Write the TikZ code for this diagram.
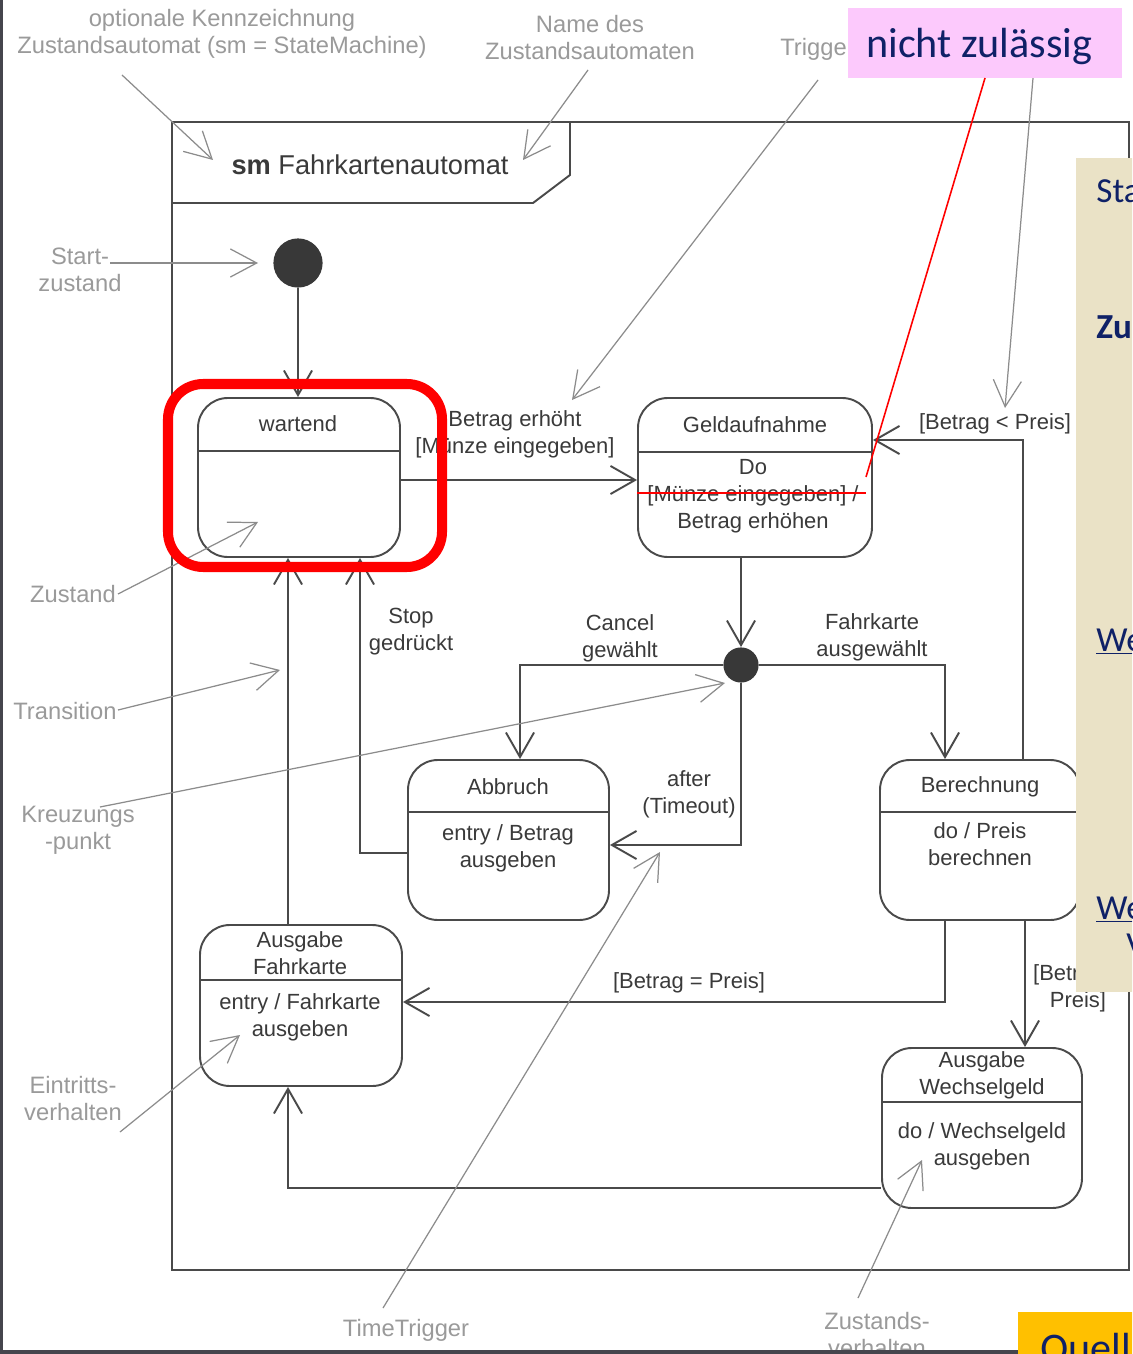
\documentclass[tikz,border=0pt]{standalone}
\usepackage{fontspec}
\setmainfont{Liberation Sans}
\newfontfamily\slidefont{Carlito}
\usetikzlibrary{arrows.meta,fit}
\definecolor{lineC}{HTML}{4A4A4A}
\definecolor{txtC}{HTML}{3A3A3A}
\definecolor{annC}{HTML}{9A9A9A}
\definecolor{annLine}{HTML}{8C8C8C}
\definecolor{navy}{HTML}{0F2167}
\definecolor{pinkbox}{HTML}{FCC9FC}
\definecolor{beige}{HTML}{EAE2C6}
\definecolor{gold}{HTML}{FFC000}
\definecolor{edgeC}{HTML}{45454D}
\newcommand\diafont{\fontsize{12.5}{15.3}\selectfont}
\newcommand\annfont{\fontsize{13.5}{15.3}\selectfont}
\newcommand\slidetext{\slidefont\fontsize{24}{28}\selectfont}
\newcommand\paneltext{\slidefont\fontsize{20}{24}\selectfont}
\begin{document}
\begin{tikzpicture}[x=0.02cm,y=-0.02cm,
  ln/.style={draw=lineC,line width=1.1pt},
  tr/.style={ln,-{Straight Barb[length=14pt,width=16pt,line width=1.1pt]}},
  state/.style={draw=lineC,line width=1.1pt,rounded corners=17pt,inner sep=0pt},
  dtext/.style={text=txtC,font=\diafont,align=center,inner sep=0pt},
  atext/.style={text=annC,font=\annfont,align=center,inner sep=0pt},
  ann/.style={draw=annLine,line width=0.7pt,-{Straight Barb[length=15pt,width=16pt,line width=0.7pt]}},
  pseudo/.style={circle,fill=black!78,inner sep=0pt},
  panel/.style={inner sep=0pt,outer sep=0pt},
  ptext/.style={text=navy,inner sep=0pt,anchor=base west},
]
\useasboundingbox (0,0) rectangle (1132,1354);
\clip (0,0) rectangle (1132,1354);
\fill[white] (0,0) rectangle (1132,1354);

% ---------- diagram frame and name tab ----------
\draw[ln] (172,122) rectangle (1129,1270);
\draw[ln] (172,203) -- (533,203) -- (570,175) -- (570,122);
\node[dtext,font=\fontsize{15.5}{18}\selectfont] (title) at (370,165) {\textbf{sm} Fahrkartenautomat};

% ---------- states ----------
\node[pseudo,minimum size=28pt] (init) at (298,263) {};
\node[pseudo,minimum size=20pt] (junc) at (741,665) {};
\node[state,fit={(198,398) (400,557)}] (wart) {};
\node[state,fit={(638,398) (872,557)}] (geld) {};
\node[state,fit={(408,760) (609,920)}] (abbr) {};
\node[state,fit={(880,760) (1080,920)}] (bere) {};
\node[state,fit={(200,925) (402,1086)}] (ausf) {};
\node[state,fit={(882,1048) (1082,1208)}] (ausw) {};

\draw[ln] (wart.west |- 0,451) -- (wart.east |- 0,451);
\draw[ln] (geld.west |- 0,452) -- (geld.east |- 0,452);
\draw[ln] (abbr.west |- 0,812) -- (abbr.east |- 0,812);
\draw[ln] (bere.west |- 0,812) -- (bere.east |- 0,812);
\draw[ln] (ausf.west |- 0,980) -- (ausf.east |- 0,980);
\draw[ln] (ausw.west |- 0,1102) -- (ausw.east |- 0,1102);

\node[dtext] (wartN) at (298,424) {wartend};
\node[dtext] (geldN) at (755,425) {Geldaufnahme};
\node[dtext] (geldB) at (753,496.5) {Do\\{[}Münze eingegeben] /\\Betrag erhöhen};
\node[dtext] (abbrN) at (508,787) {Abbruch};
\node[dtext] (abbrB) at (508,848.5) {entry / Betrag\\ausgeben};
\node[dtext] (bereN) at (980,787) {Berechnung};
\node[dtext] (bereB) at (980,844.5) {do / Preis\\berechnen};
\node[dtext] (ausfN) at (300,953.5) {Ausgabe\\Fahrkarte};
\node[dtext] (ausfB) at (300,1017) {entry / Fahrkarte\\ausgeben};
\node[dtext] (auswN) at (982,1075.5) {Ausgabe\\Wechselgeld};
\node[dtext] (auswB) at (982,1146) {do / Wechselgeld\\ausgeben};

% ---------- transitions ----------
\draw[tr] (init) -- (init |- wart.north);
\draw[tr] (wart.east |- 0,480) -- (geld.west |- 0,480);
\draw[tr] (geld.south -| junc) -- (junc.north);
\draw[tr] (junc.west) -| (abbr.north -| 520,0);
\draw[tr] (junc.east) -| (bere.north -| 945,0);
\draw[tr] (junc.south) |- (abbr.east |- 0,845);
\draw[tr] (abbr.west |- 0,853) -| (wart.south -| 360,0);
\draw[tr] (ausf.north -| 288,0) -- (wart.south -| 288,0);
\draw[tr] (bere.north -| 1023,0) |- (geld.east |- 0,440);
\draw[tr] (bere.south -| 945,0) |- (ausf.east |- 0,1002);
\draw[tr] (bere.south -| 1025,0) -- (ausw.north -| 1025,0);
\draw[tr] (ausw.west |- 0,1188) -| (ausf.south -| 288,0);

\node[dtext] (l1) at (515,434.5) {Betrag erhöht\\{[}Münze eingegeben]};
\node[dtext] (l2) at (995,424) {[Betrag < Preis]};
\node[dtext] (l3) at (620,638.5) {Cancel\\gewählt};
\node[dtext] (l4) at (872,637) {Fahrkarte\\ausgewählt};
\node[dtext] (l5) at (411,631.5) {Stop\\gedrückt};
\node[dtext] (l6) at (689,794.5) {after\\(Timeout)};
\node[dtext] (l7) at (689,983) {[Betrag = Preis]};
\node[dtext] (l8) at (1078,988) {[Betrag >\\Preis]};

% ---------- explanatory annotations ----------
\node[atext] (a1) at (222,33.5) {optionale Kennzeichnung\\Zustandsautomat (sm = StateMachine)};
\node[atext] (a2) at (590,37.5) {Name des\\Zustandsautomaten};
\node[atext,anchor=west] (a3) at (780,49) {Trigger};
\node[atext] (a4) at (80,270) {Start-\\zustand};
\node[atext] (a5) at (73,594) {Zustand};
\node[atext] (a6) at (65,711) {Transition};
\node[atext] (a7) at (78,830.5) {Kreuzungs\\-punkt};
\node[atext] (a8) at (73,1098.5) {Eintritts-\\verhalten};
\node[atext] (a9) at (406,1330) {TimeTrigger};
\node[atext] (a10) at (877,1334.5) {Zustands-\\verhalten};

\coordinate (s1) at (122,75);   \coordinate (e1) at (213,160);
\coordinate (s2) at (588,70);   \coordinate (e2) at (523,160);
\coordinate (s3) at (818,80);   \coordinate (e3) at (572,400);
\coordinate (s4) at (1033,78);  \coordinate (e4) at (1005,408);
\coordinate (s5) at (110,263);  \coordinate (e5) at (258,263);
\coordinate (s6) at (118,594);  \coordinate (e6) at (258,522);
\coordinate (s7) at (118,710);  \coordinate (e7) at (280,670);
\coordinate (s8) at (100,807);  \coordinate (e8) at (725,683);
\coordinate (s9) at (120,1132); \coordinate (e9) at (240,1035);
\coordinate (s10) at (383,1308); \coordinate (e10) at (660,852);
\coordinate (s11) at (858,1298); \coordinate (e11) at (922,1160);
\foreach \i in {1,...,11} { \draw[ann] (s\i) -- (e\i); }

% ---------- slide overlays ----------
\node[draw=red,line width=5.7pt,rounded corners=20pt,inner sep=0pt,fit={(168,384) (442,567)}] (mark) {};
\node[fill=pinkbox,panel,fit={(848,8) (1122,78)}] (nz) {};
\node[ptext,font=\slidetext] (nzT) at (866,58) {nicht zulässig};
\draw[red,line width=1.1pt] (geld.west |- 0,493) -- (866,493);
\coordinate (slash) at (866,477);
\draw[red,line width=0.9pt] (slash) -- (nz.south -| 985,0);

\node[fill=beige,panel,fit={(1076,158) (1140,992)}] (side) {};
\node[ptext,font=\paneltext] (p1) at (1096,203) {Sta};
\node[ptext,font=\paneltext\bfseries] (p2) at (1096,338) {Zu};
\node[ptext,font=\paneltext] (p3) at (1096,651) {\underline{We}};
\node[ptext,font=\paneltext] (p4) at (1096,919) {\underline{We}};
\node[ptext,font=\paneltext] (p5) at (1126,956) {V};

\node[fill=gold,panel,fit={(1018,1312) (1140,1360)}] (src) {};
\node[ptext,font=\slidetext] (srcT) at (1040,1362) {Quell};

\fill[edgeC] (0,0) rectangle (3,1354);
\fill[edgeC] (0,1350) rectangle (1018,1354);
\end{tikzpicture}
\end{document}
